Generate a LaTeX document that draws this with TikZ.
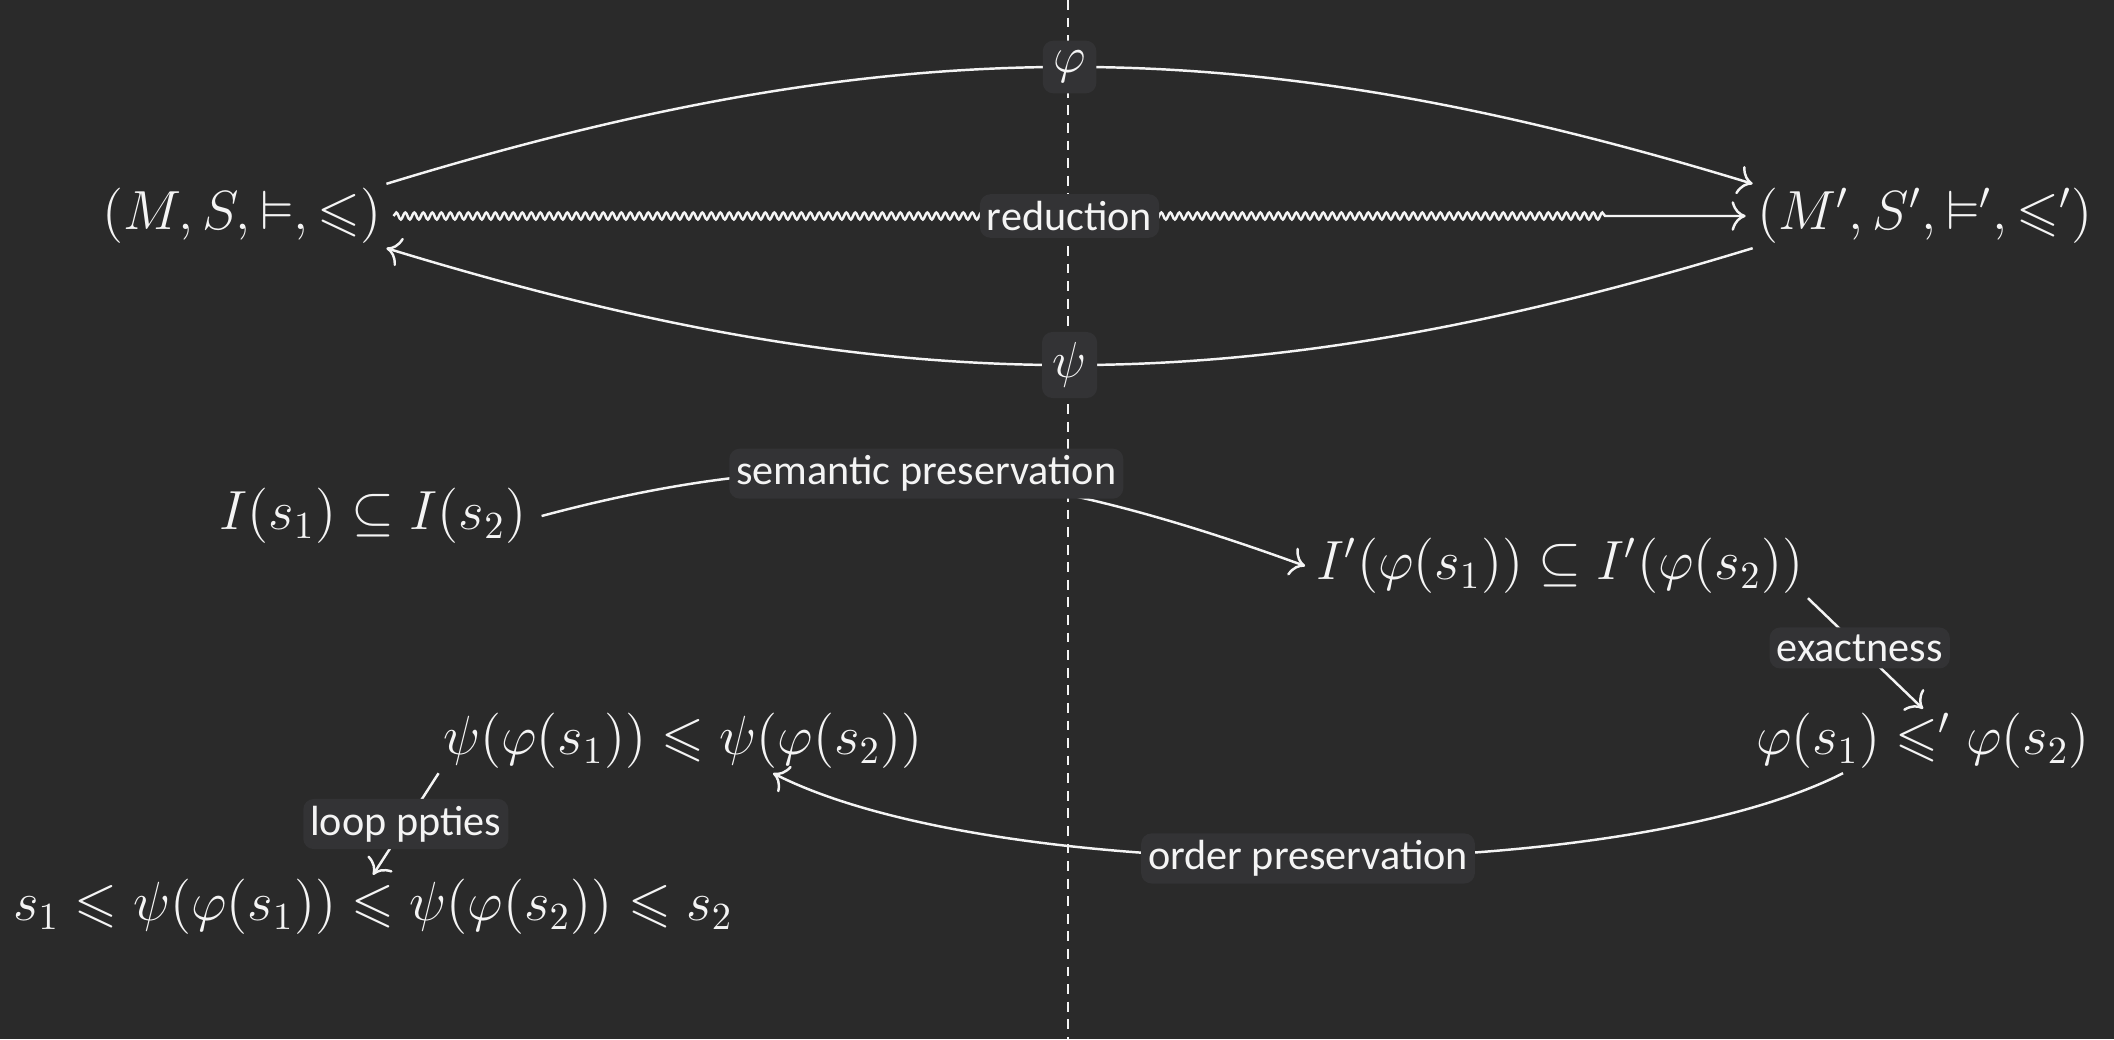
\documentclass[tikz,border=0pt]{standalone}
\usepackage{fontspec}
\usepackage{amsmath}
\usepackage{amssymb}
\usepackage{tikz}
\usetikzlibrary{arrows.meta, positioning, decorations.pathmorphing}
\newfontfamily\chalkfont{Carlito}
\definecolor{board}{HTML}{2A2A2A}
\definecolor{boardlbl}{HTML}{333335}
\definecolor{chalkwhite}{HTML}{F4F4F4}

\begin{document}
\begin{tikzpicture}[
    eq/.style={text=chalkwhite, font=\Large, scale=1.09, inner sep=1pt},
    lbl/.style={fill=boardlbl, rounded corners=3pt, text=chalkwhite,
                font=\chalkfont\large, inner sep=2pt},
    ln/.style={draw=chalkwhite, line width=0.7pt, -{To[length=4pt]}},
]
    % board
    \useasboundingbox (0,0) rectangle (21.14,-10.39);
    \fill[board] (0,0) rectangle (21.14,-10.39);
    \draw[chalkwhite, line width=0.7pt, dash pattern=on 2.8pt off 2.2pt]
        (10.68,0) -- (10.68,-10.39);

    % the two structures
    \node[eq] (src) at (2.42,-2.16) {$(M,S,\vDash,\leqslant)$};
    \node[eq] (tgt) at (19.25,-2.16) {$(M',S',\vDash',\leqslant')$};

    % statements
    \node[eq] (sem) at (3.73,-5.16) {$I(s_1)\subseteq I(s_2)$};
    \node[eq] (semp) at (15.6,-5.66) {$I'(\varphi(s_1))\subseteq I'(\varphi(s_2))$};
    \node[eq] (ordp) at (19.23,-7.41) {$\varphi(s_1)\leqslant'\varphi(s_2)$};
    \node[eq] (ord) at (6.83,-7.41) {$\psi(\varphi(s_1))\leqslant\psi(\varphi(s_2))$};
    \node[eq] (chain) at (3.73,-9.07)
        {$s_1\leqslant\psi(\varphi(s_1))\leqslant\psi(\varphi(s_2))\leqslant s_2$};

    % maps
    \draw[ln] (src.north east) to[bend left=17]
        node[lbl, font=\Large, inner sep=3pt] {$\varphi$} (tgt.north west);
    \draw[ln] (tgt.south west) to[bend left=17]
        node[lbl, font=\Large, inner sep=3pt] {$\psi$} (src.south east);
    \draw[ln, decorate, decoration={snake, amplitude=0.35mm,
          segment length=0.9mm, post length=1.4cm}]
        ([xshift=2pt]src.east) -- node[lbl] {reduction} ([xshift=-2pt]tgt.west);

    % reasoning steps
    \draw[ln] ([xshift=3pt]sem.east) to[out=15, in=160]
        node[lbl] {semantic preservation} ([xshift=-2pt]semp.west);
    \draw[ln] (semp.south east) -- node[lbl, pos=0.45] {exactness} (ordp.north);
    \draw[ln] ([xshift=-0.8cm]ordp.south) to[bend left=27, looseness=0.6]
        node[lbl] {order preservation} ([xshift=0.9cm]ord.south);
    \draw[ln] (ord.south west) -- node[lbl] {loop ppties} (chain.north);
\end{tikzpicture}
\end{document}
